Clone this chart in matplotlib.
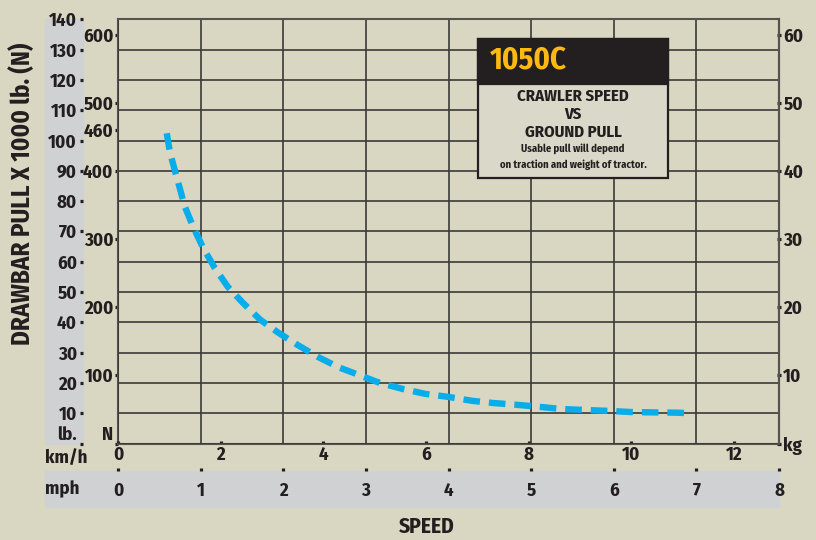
import numpy as np
import matplotlib
matplotlib.use("Agg")
from matplotlib import pyplot as plt
from matplotlib.patches import Rectangle

# =============================================================================
# data
# =============================================================================
speed_mph = [0.59, 0.63, 0.73, 0.81, 0.91, 1.03, 1.17, 1.33, 1.51, 1.72, 1.94,
             2.17, 2.42, 2.66, 2.91, 3.17, 3.45, 3.72, 4.00, 4.29, 4.54, 4.83,
             5.11, 5.38, 5.65, 5.93, 6.22, 6.48, 6.77, 6.85]
pull_klb = [102.4, 95.9, 86.0, 78.1, 71.5, 64.6, 58.0, 51.7, 46.5, 40.9, 36.6,
            32.6, 28.6, 25.3, 22.7, 20.0, 18.0, 16.4, 15.4, 14.1, 13.4, 12.8,
            12.1, 11.4, 11.1, 10.8, 10.4, 10.3, 10.2, 10.1]

lb_ticks = list(range(0, 150, 10))
lb_labels = ["lb."] + [str(v) for v in lb_ticks[1:]]
n_ticks = [0, 100, 200, 300, 400, 460, 500, 600]
n_labels = ["N", "100", "200", "300", "400", "460", "500", "600"]
kg_ticks = [0, 10, 20, 30, 40, 50, 60]
kg_labels = ["kg", "10", "20", "30", "40", "50", "60"]
kmh_ticks = [0, 2, 4, 6, 8, 10, 12]
mph_ticks = [0, 1, 2, 3, 4, 5, 6, 7, 8]

model = "1050C"
box_lines = ["CRAWLER SPEED", "VS", "GROUND PULL"]
box_note = ["Usable pull will depend", "on traction and weight of tractor."]

# =============================================================================
# style
# =============================================================================
plt.rcParams['font.family'] = ['Fira Sans Condensed', 'DejaVu Sans']
plt.rcParams['font.weight'] = 'bold'
bg = '#d9d6c2'
band = '#d0d1d3'
ink = '#231f20'
W, H = 816, 540

def fx(px):
    return px / W

def fy(py):
    return 1 - py / H

fig = plt.figure(figsize=(8.16, 5.4), dpi=100, facecolor=bg)

# grey bands behind the lb and mph scales
fig.patches.append(Rectangle((fx(45), fy(443.6)), fx(83) - fx(45), fy(19.3) - fy(443.6),
                             transform=fig.transFigure, color=band, zorder=-5))
fig.patches.append(Rectangle((fx(45), fy(507)), fx(779) - fx(45), fy(471) - fy(507),
                             transform=fig.transFigure, color=band, zorder=-5))

ax = fig.add_axes([fx(118), fy(443.6), fx(779) - fx(118), fy(19.3) - fy(443.6)])
ax.set_facecolor(bg)
ax.set_xlim(0, 8)
ax.set_ylim(0, 140)

ax.plot(speed_mph, pull_klb, color='#08ade9', lw=4.6, dashes=(2.6, 1.4),
        solid_capstyle='butt', dash_capstyle='butt', zorder=5)

ax.grid(True, color='#3b3936', lw=1.2, zorder=1)
ax.set_axisbelow(True)

dot = dict(length=2.3, width=2.3, color=ink, labelsize=13.5, labelcolor=ink)

# main y: lb scale, out on the grey band
ax.spines['left'].set_position(('outward', 25.2))
ax.spines['left'].set_visible(False)
ax.set_yticks(lb_ticks)
ax.set_yticklabels(lb_labels)
ax.tick_params(axis='y', direction='out', pad=2, **dot)
ax.get_yticklabels()[0].set_va('bottom')

# main x: mph scale, on the lower grey band
ax.spines['bottom'].set_position(('outward', 19.5))
ax.spines['bottom'].set_visible(False)
ax.set_xticks(mph_ticks)
ax.tick_params(axis='x', direction='in', pad=8, **dot)

for s in ['top', 'right']:
    ax.spines[s].set_color('#555350')
    ax.spines[s].set_linewidth(1.5)

# N scale on the frame
ax_n = ax.secondary_yaxis('left', functions=(lambda v: v * 4.448, lambda v: v / 4.448))
ax_n.set_yticks(n_ticks)
ax_n.set_yticklabels(n_labels)
ax_n.tick_params(direction='out', pad=1, **dot)
ax_n.spines['left'].set_color('#555350')
ax_n.spines['left'].set_linewidth(1.5)
ax_n.get_yticklabels()[0].set_va('bottom')

# kg scale on the right
ax_kg = ax.secondary_yaxis('right', functions=(lambda v: v * 0.4448, lambda v: v / 0.4448))
ax_kg.set_yticks(kg_ticks)
ax_kg.set_yticklabels(kg_labels)
ax_kg.tick_params(direction='inout', pad=2, **dot)
ax_kg.spines['right'].set_color('#555350')
ax_kg.spines['right'].set_linewidth(1.5)

# km/h scale on the frame
ax_k = ax.secondary_xaxis('bottom', functions=(lambda v: v * 1.609344, lambda v: v / 1.609344))
ax_k.set_xticks(kmh_ticks)
ax_k.tick_params(direction='in', pad=1.5, **dot)
ax_k.spines['bottom'].set_color('#555350')
ax_k.spines['bottom'].set_linewidth(1.5)

# row labels
fig.text(fx(45), fy(458), "km/h", ha='left', va='center', fontsize=13.5, color=ink)
fig.text(fx(45), fy(489), "mph", ha='left', va='center', fontsize=13.5, color=ink)

fig.text(fx(22), fy(194), "DRAWBAR PULL X 1000 lb. (N)", rotation=90,
         ha='center', va='center', fontsize=18, color=ink)
fig.text(fx(427), fy(527), "SPEED", ha='center', va='center', fontsize=15.5, color=ink)

# =============================================================================
# info box
# =============================================================================
bx0, bx1, by0, by1, bh = 478, 668, 39, 178, 84
fig.patches.append(Rectangle((fx(bx0), fy(by1)), fx(bx1) - fx(bx0), fy(by0) - fy(by1),
                             transform=fig.transFigure, facecolor='#dad8c8',
                             edgecolor=ink, lw=1.6, zorder=6))
fig.patches.append(Rectangle((fx(bx0), fy(bh)), fx(bx1) - fx(bx0), fy(by0) - fy(bh),
                             transform=fig.transFigure, facecolor=ink,
                             edgecolor=ink, lw=1.6, zorder=7))
fig.text(fx(490), fy(61.5), model, ha='left', va='center', fontsize=22,
         color='#fdb813', zorder=8)
for txt, yy in zip(box_lines, [96, 114, 132]):
    fig.text(fx(573), fy(yy), txt, ha='center', va='center', fontsize=12,
             color=ink, zorder=8)
for txt, yy in zip(box_note, [148.5, 164.5]):
    fig.text(fx(573), fy(yy), txt, ha='center', va='center', fontsize=7.6,
             color=ink, zorder=8)

fig.savefig('out.png', dpi=100, facecolor=bg)
